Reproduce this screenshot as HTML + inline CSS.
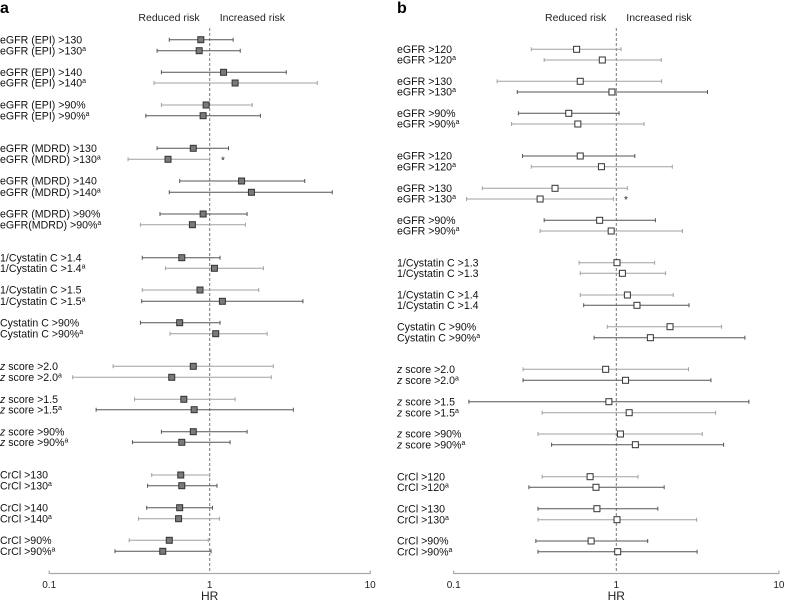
<!DOCTYPE html>
<html><head><meta charset="utf-8"><style>
html,body{margin:0;padding:0;background:#fff;}
svg{display:block;font-family:"Liberation Sans",Arial,sans-serif;}
</style></head><body>
<svg id="chart" width="785" height="601" viewBox="0 0 785 601" xmlns="http://www.w3.org/2000/svg"></svg>
<script>
// ---------- Panel a data ----------
const labelsA = ["eGFR (EPI) >130","eGFR (EPI) >130ᵃ","eGFR (EPI) >140","eGFR (EPI) >140ᵃ","eGFR (EPI) >90%","eGFR (EPI) >90%ᵃ",
"eGFR (MDRD) >130","eGFR (MDRD) >130ᵃ","eGFR (MDRD) >140","eGFR (MDRD) >140ᵃ","eGFR (MDRD) >90%","eGFR(MDRD) >90%ᵃ",
"1/Cystatin C >1.4","1/Cystatin C >1.4ᵃ","1/Cystatin C >1.5","1/Cystatin C >1.5ᵃ","Cystatin C >90%","Cystatin C >90%ᵃ",
"z score >2.0","z score >2.0ᵃ","z score >1.5","z score >1.5ᵃ","z score >90%","z score >90%ᵃ",
"CrCl >130","CrCl >130ᵃ","CrCl >140","CrCl >140ᵃ","CrCl >90%","CrCl >90%ᵃ"];
const hrA = [0.88,0.86,1.22,1.44,0.95,0.91,0.79,0.55,1.58,1.82,0.91,0.78,0.67,1.07,0.87,1.20,0.65,1.09,0.79,0.58,0.69,0.80,0.79,0.67,0.66,0.67,0.65,0.64,0.56,0.51];
const loA = [0.56,0.47,0.50,0.45,0.50,0.40,0.47,0.31,0.65,0.56,0.49,0.37,0.38,0.53,0.38,0.377,0.37,0.566,0.25,0.14,0.34,0.196,0.50,0.33,0.435,0.41,0.405,0.36,0.315,0.257];
const hiA = [1.40,1.55,3.0,4.68,1.84,2.07,1.31,1.0,3.91,5.8,1.71,1.67,1.16,2.16,2.02,3.81,1.16,2.28,2.49,2.42,1.44,3.32,1.71,1.34,1.0,1.11,1.04,1.15,0.98,1.02];
const yA = [39.7,50.7,72.3,83,105,115.7,148.3,159.3,181,192.3,214,224.7,257.7,268.3,290,301.3,322.7,333.7,366.3,377.3,399.3,409.7,431.7,442.3,475,485.7,507.7,518.7,540.3,551.3];
const shadeA = [1,1,1,0,0,1,1,0,1,1,1,0,1,0,0,1,1,0,0,0,0,1,1,1,0,1,1,0,0,1];
// ---------- Panel b data ----------
const labelsB = ["eGFR >120","eGFR >120ᵃ","eGFR >130","eGFR >130ᵃ","eGFR >90%","eGFR >90%ᵃ",
"eGFR >120","eGFR >120ᵃ","eGFR >130","eGFR >130ᵃ","eGFR >90%","eGFR >90%ᵃ",
"1/Cystatin C >1.3","1/Cystatin C >1.3","1/Cystatin C >1.4","1/Cystatin C >1.4","Cystatin C >90%","Cystatin C >90%ᵃ",
"z score >2.0","z score >2.0ᵃ","z score >1.5","z score >1.5ᵃ","z score >90%","z score >90%ᵃ",
"CrCl >120","CrCl >120ᵃ","CrCl >130","CrCl >130ᵃ","CrCl >90%","CrCl >90%ᵃ"];
const hrB = [0.57,0.82,0.60,0.94,0.51,0.58,0.60,0.81,0.42,0.34,0.79,0.93,1.01,1.09,1.17,1.34,2.14,1.62,0.86,1.14,0.90,1.20,1.06,1.31,0.69,0.75,0.76,1.01,0.70,1.02];
const loB = [0.30,0.36,0.185,0.246,0.25,0.227,0.265,0.30,0.15,0.12,0.36,0.34,0.59,0.60,0.60,0.63,0.88,0.73,0.267,0.267,0.124,0.35,0.33,0.40,0.35,0.29,0.33,0.33,0.32,0.33];
const hiB = [1.07,1.89,1.90,3.64,1.04,1.48,1.30,2.21,1.17,0.96,1.74,2.55,1.72,2.01,2.24,2.80,4.44,6.18,2.78,3.82,6.54,4.08,3.38,4.57,1.36,1.97,1.80,3.12,1.56,3.14];
const yB = [49.3,60,81.3,92,113.3,124,156,166.7,188.3,199,220.3,231,262.7,273.3,295,305.3,326.7,337.7,369.3,380.3,401.7,412.7,434,444.7,476.7,487.3,508.7,519.7,541,551.7];
const shadeB = [0,0,0,1,1,0,1,0,0,0,1,0,0,0,0,1,0,1,0,1,1,0,0,1,0,1,1,0,1,1];
const tickVals = [0.1,1,10];
const tickLabels = ["0.1","1","10"];

const NS = "http://www.w3.org/2000/svg";
const svg = document.getElementById('chart');
function mk(tag, attrs, parent){const e=document.createElementNS(NS,tag);for(const k in attrs)e.setAttribute(k,attrs[k]);(parent||svg).appendChild(e);return e;}

function panel(cfg){
  const g = mk('g',{});
  
  
  const xs = v => cfg.x1 + (Math.log10(v)) * cfg.dec;
  const L = mk('text',{x:cfg.letterX,y:13,'font-size':16,'font-weight':'bold',fill:'#000'},g);
  L.textContent = cfg.letter;
  
  
  const r1 = mk('text',{x:cfg.x1-10,y:21,'font-size':10.5,'text-anchor':'end',fill:'#222'},g);
  r1.textContent='Reduced risk';
  
  
  const r2 = mk('text',{x:cfg.x1+10,y:21,'font-size':10.5,'text-anchor':'start',fill:'#222'},g);
  r2.textContent='Increased risk';
  
  
  const ref = mk('line',{x1:xs(1),x2:xs(1),y1:28,y2:573,stroke:'#777','stroke-width':1,'stroke-dasharray':'3,2'},g);
  
  
  const ax = mk('path',{d:`M${xs(tickVals[0])},570.5 V573.5 H${xs(tickVals[tickVals.length-1])} V570.5`,stroke:'#aaa',fill:'none','stroke-width':1.2},g);
  
  
  tickVals.forEach((v,i)=>{
    const t = mk('text',{x:xs(v),y:588,'font-size':10,'text-anchor':'middle',fill:'#222'},g);
    t.textContent = tickLabels[i];
    
    
  });
  const hr = mk('text',{x:xs(1),y:600,'font-size':12,'text-anchor':'middle',fill:'#222'},g);
  hr.textContent='HR';
  
  
  cfg.labels.forEach((lab,i)=>{
    const y = cfg.ys[i];
    const t = mk('text',{x:cfg.labelX,y:y+3.7,'font-size':10.6,fill:'#111'},g);
    
    
    let txt = lab, sup = false;
    if (txt.endsWith('ᵃ')) { txt = txt.slice(0,-1); sup = true; }
    if (txt.startsWith('z ')) {
      const z = mk('tspan',{'font-style':'italic'},t); z.textContent='z';
      const rest = mk('tspan',{},t); rest.textContent = txt.slice(1);
    } else { const s = mk('tspan',{},t); s.textContent = txt; }
    if (sup) { const s = mk('tspan',{'font-size':7,dy:-3.5},t); s.textContent='a'; }
    const col = cfg.shade[i] ? '#555' : '#a0a0a0';
    const lo = xs(cfg.lo[i]), hi = xs(cfg.hi[i]);
    const w = mk('path',{d:`M${lo},${y} H${hi} M${lo},${y-2} V${y+2} M${hi},${y-2} V${y+2}`,stroke:col,'stroke-width':1,fill:'none'},g);
    
    
    const b = mk('rect',{x:xs(cfg.hr[i])-3,y:y-3,width:6,height:6,fill:cfg.boxFill,stroke:'#333','stroke-width':1},g);
    
    
  });
  const star = mk('text',{x:cfg.starX,y:cfg.starY+4,'font-size':10,'text-anchor':'middle',fill:'#222'},g);
  star.textContent='*';
  
  
}

panel({name:'panel-a',letter:'a',letterX:0,labelX:0,x1:209.7,dec:160.5,labels:labelsA,hr:hrA,lo:loA,hi:hiA,ys:yA,shade:shadeA,boxFill:'#7a7a7a',starX:223,starY:159.3});
panel({name:'panel-b',letter:'b',letterX:397,labelX:397,x1:616.3,dec:162.6,labels:labelsB,hr:hrB,lo:loB,hi:hiB,ys:yB,shade:shadeB,boxFill:'#fff',starX:626,starY:199});
</script>
</body></html>
